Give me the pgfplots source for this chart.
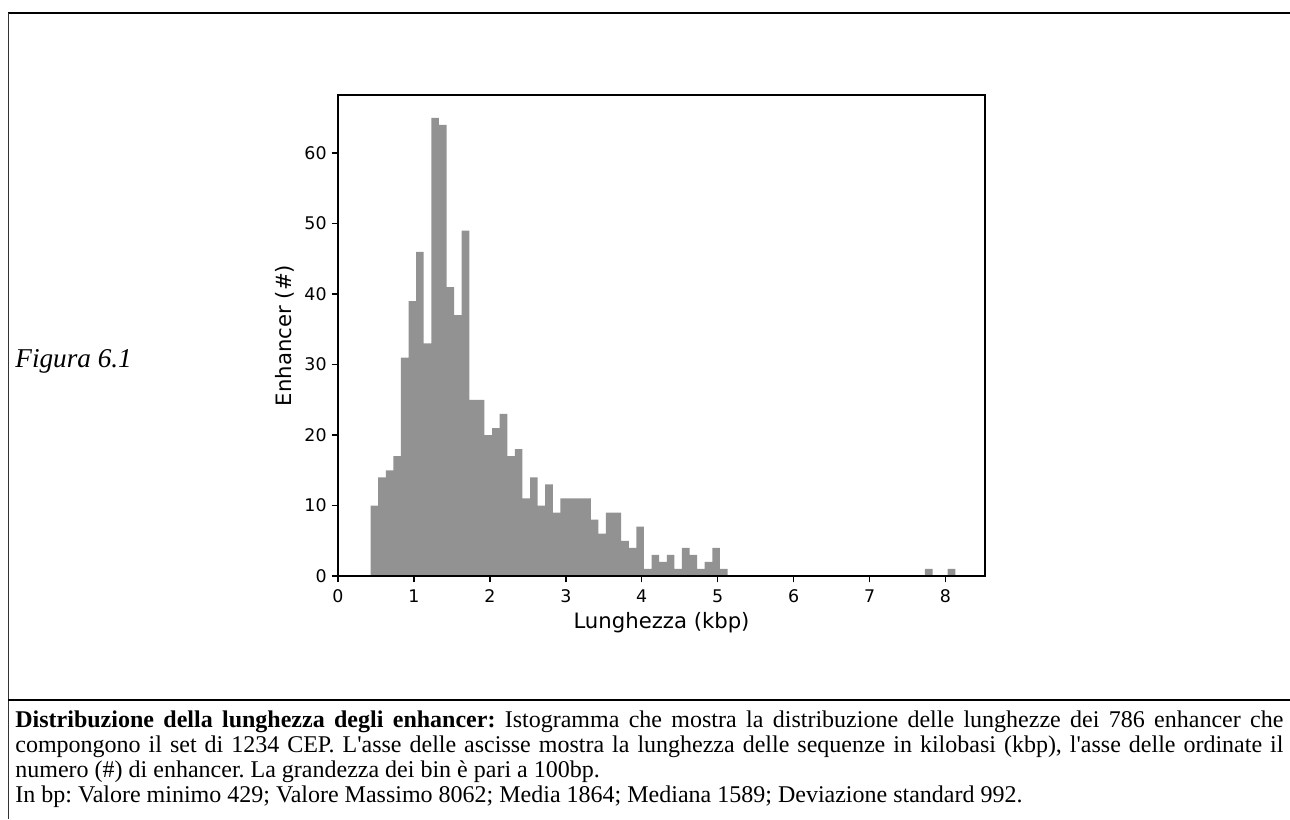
\documentclass[border=0pt]{standalone}
\usepackage{fontspec}
\usepackage{pgfplots}
\usepackage{pgfplotstable}
\pgfplotsset{compat=1.18}
\newfontfamily\dvs{DejaVu Sans}
\newfontfamily\capserif{Liberation Serif}
\definecolor{bargray}{RGB}{146,146,146}

\pgfplotstableread{
edge height
0.429 10
0.529 14
0.629 15
0.729 17
0.829 31
0.929 39
1.029 46
1.129 33
1.229 65
1.329 64
1.429 41
1.529 37
1.629 49
1.729 25
1.829 25
1.929 20
2.029 21
2.129 23
2.229 17
2.329 18
2.429 11
2.529 14
2.629 10
2.729 13
2.829 9
2.929 11
3.029 11
3.129 11
3.229 11
3.329 8
3.429 6
3.529 9
3.629 9
3.729 5
3.829 4
3.929 7
4.029 1
4.129 3
4.229 2
4.329 3
4.429 1
4.529 4
4.629 3
4.729 1
4.829 2
4.929 4
5.029 1
5.129 0
}\histmain

\pgfplotstableread{
edge height
7.729 1
7.829 0
7.929 0
8.029 1
8.129 0
}\histtail

\begin{document}
\begin{tikzpicture}
\useasboundingbox (0,0) rectangle (645pt,-409.5pt);
\begin{scope}[x=0.5pt,y=-0.5pt]
\draw[line width=1pt] (8,13) -- (1290,13);
\draw[line width=0.5pt, black!80] (8,13) -- (8,819);
\draw[line width=0.8pt] (8,700) -- (1290,700);
\node[anchor=base west, inner sep=0, font=\capserif\itshape\fontsize{13.6}{16}\selectfont] at (15,367) {Figura 6.1};
\begin{scope}[every node/.style={anchor=base west, inner sep=0, font=\capserif\fontsize{12}{12.5}\selectfont\frenchspacing}]
\node at (15,727) {\makebox[634pt][s]{\textbf{Distribuzione della lunghezza degli enhancer:} Istogramma che mostra la distribuzione delle lunghezze dei 786 enhancer che}};
\node at (15,752) {\makebox[634pt][s]{compongono il set di 1234 CEP. L\textquotesingle asse delle ascisse mostra la lunghezza delle sequenze in kilobasi (kbp), l\textquotesingle asse delle ordinate il}};
\node at (15,777) {numero (\#) di enhancer. La grandezza dei bin è pari a 100bp.};
\node at (15,802) {In bp: Valore minimo 429; Valore Massimo 8062; Media 1864; Mediana 1589; Deviazione standard 992.};
\end{scope}
\end{scope}
\begin{axis}[
  at={(169pt,-288pt)}, anchor=south west,
  scale only axis, width=323.5pt, height=240.5pt,
  xmin=0, xmax=8.52, ymin=0, ymax=68.25,
  xtick={0,1,...,8}, ytick={0,10,...,60},
  tick pos=left, tick align=outside,
  major tick length=3.2pt,
  every tick/.style={black, line width=0.7pt},
  axis line style={line width=0.7pt},
  axis on top,
  /pgf/number format/assume math mode=true,
  tick label style={font=\dvs\fontsize{8.7}{10}\selectfont},
  xticklabel style={inner sep=0pt, anchor=north, yshift=-3.5pt},
  yticklabel style={inner sep=0pt, anchor=east, xshift=-2.3pt},
  xlabel={Lunghezza (kbp)}, ylabel={Enhancer (\#)},
  every axis x label/.style={at={(axis description cs:0.5,0)}, anchor=center, yshift=-23.5pt, font=\dvs\fontsize{10.6}{12}\selectfont},
  every axis y label/.style={at={(axis description cs:0,0.5)}, anchor=center, rotate=90, yshift=26.5pt, font=\dvs\fontsize{10.6}{12}\selectfont},
]
\addplot[ybar interval, fill=bargray, draw=none] table[x=edge, y=height] {\histmain};
\addplot[ybar interval, fill=bargray, draw=none] table[x=edge, y=height] {\histtail};
\end{axis}
\end{tikzpicture}
\end{document}
